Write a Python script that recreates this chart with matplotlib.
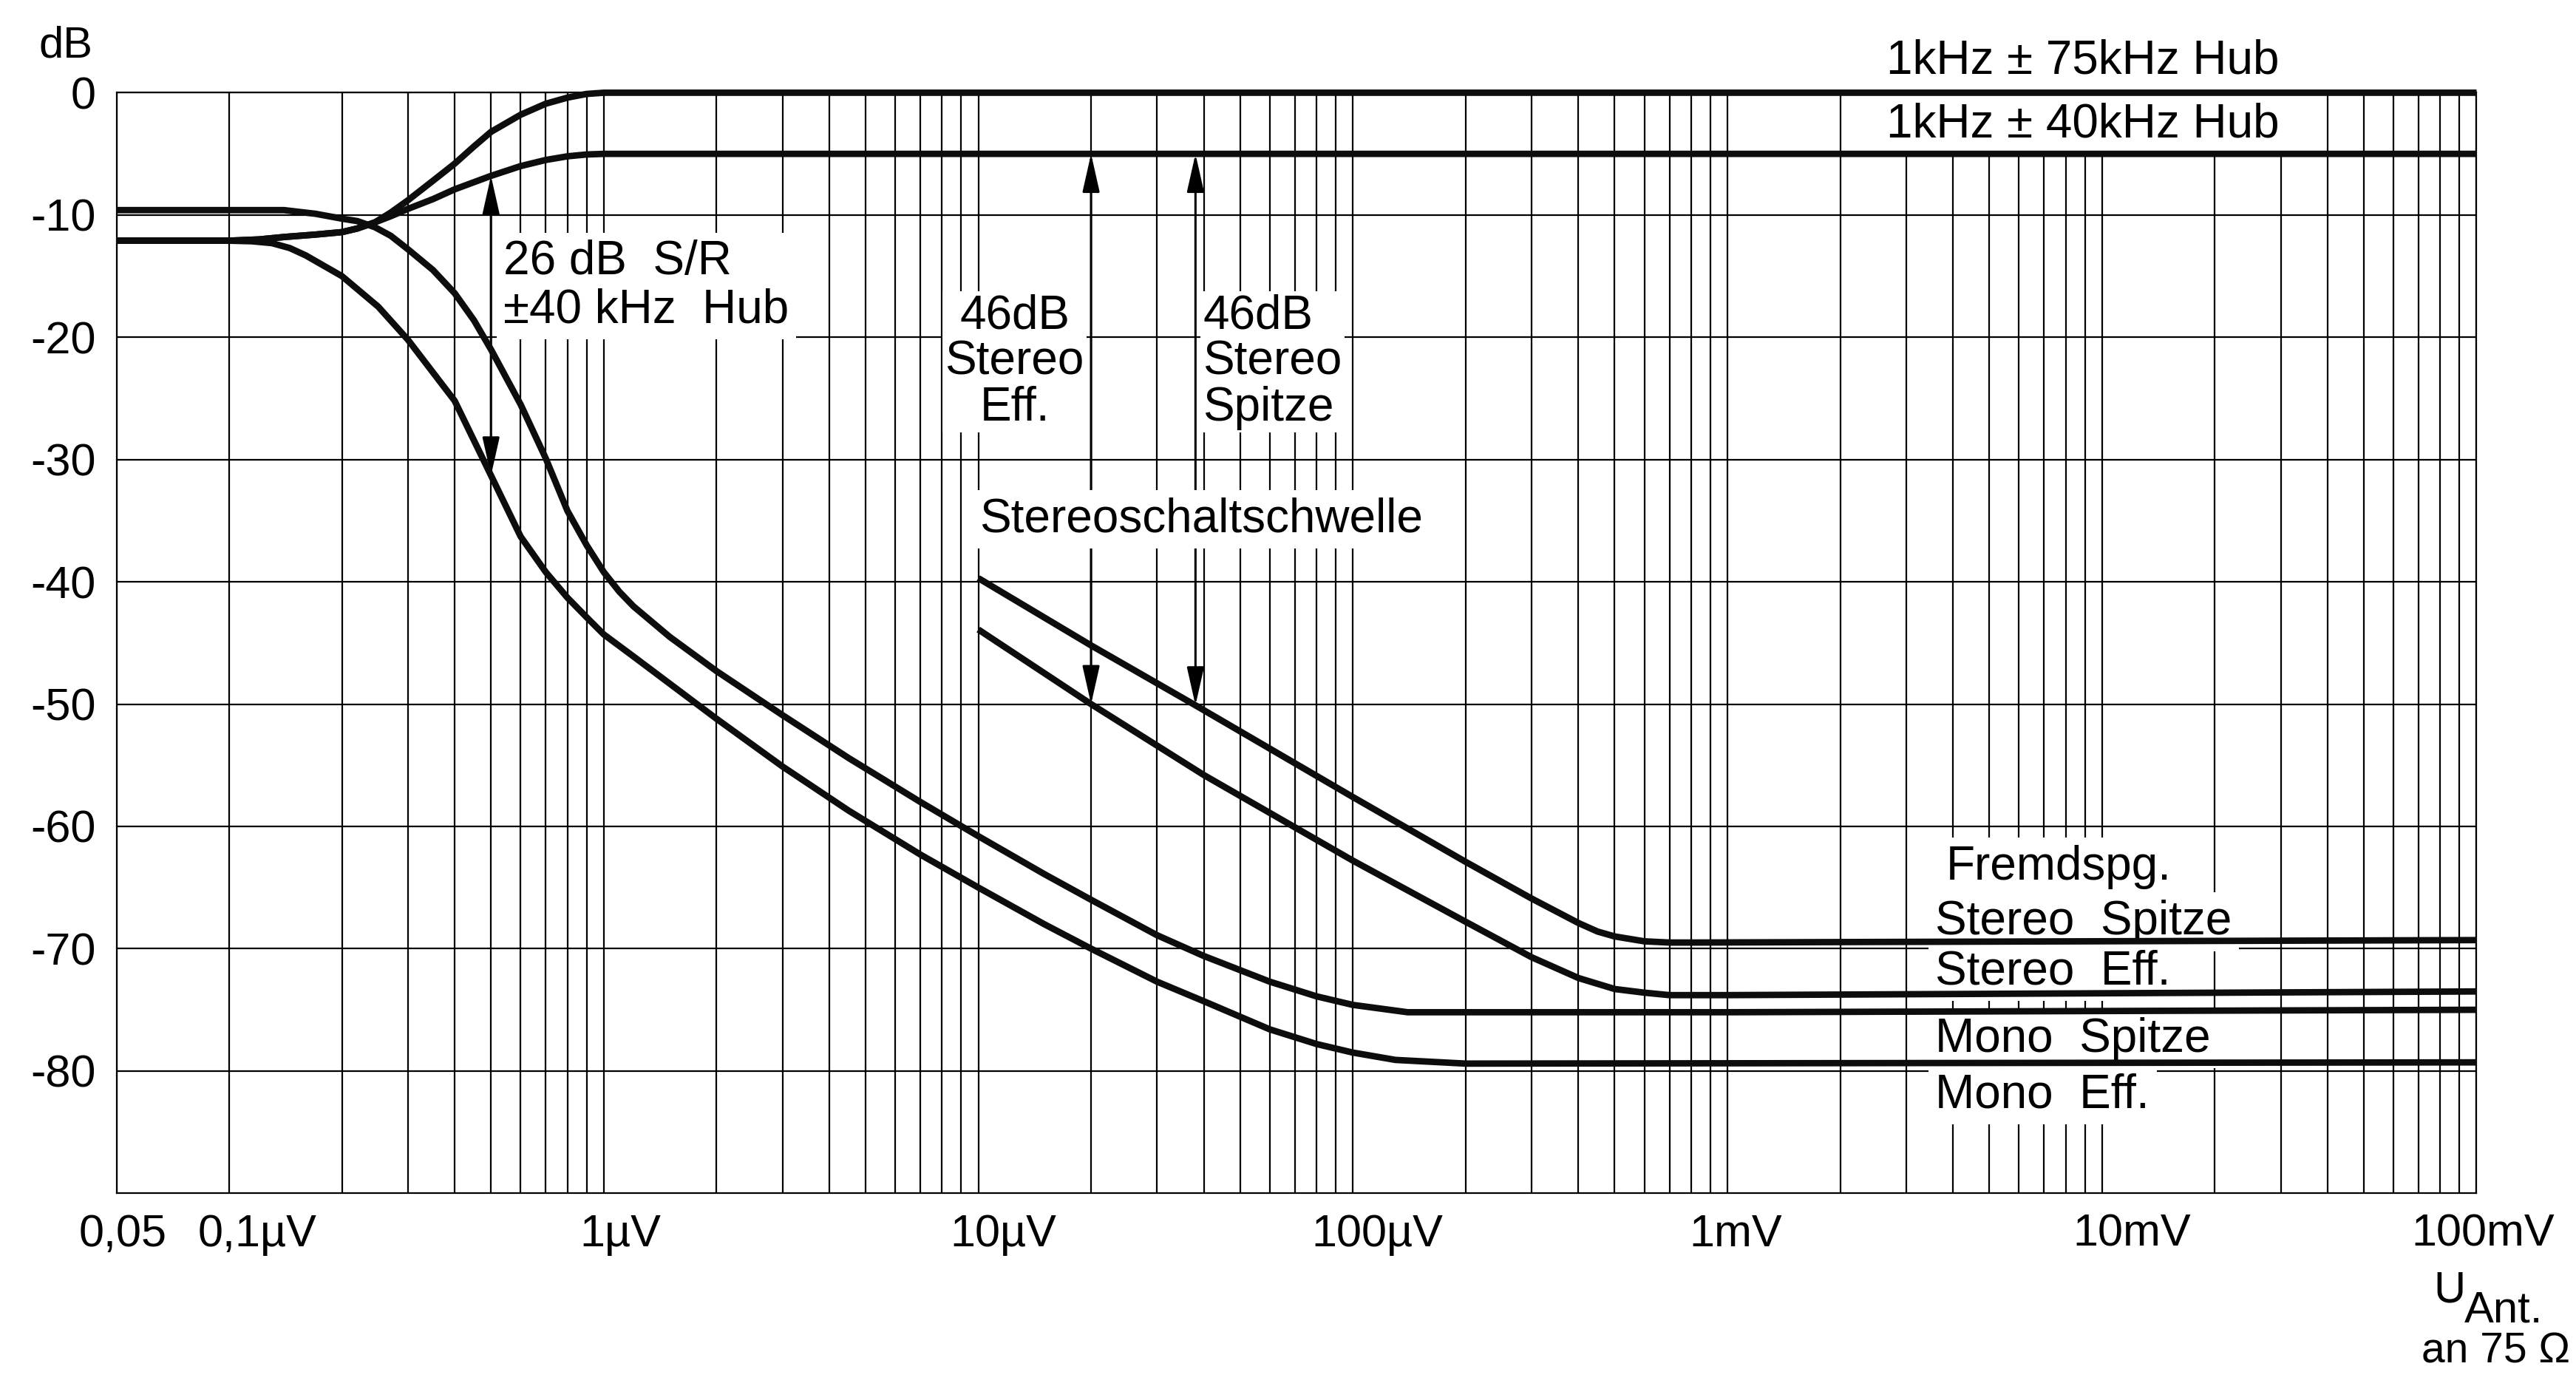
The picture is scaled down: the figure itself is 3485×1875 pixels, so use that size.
import numpy as np
import matplotlib
matplotlib.use('Agg')
import matplotlib.pyplot as plt
from matplotlib import font_manager

# antenna voltage in µV, level in dB
uv_75 = [0.05, 0.1, 0.12, 0.14, 0.17, 0.2, 0.22, 0.245, 0.27, 0.3, 0.35, 0.4, 0.45, 0.5, 0.6, 0.7, 0.8, 0.9,
         1.0, 1e5]
db_75 = [-12.1, -12.1, -12.0, -11.8, -11.6, -11.4, -11.1, -10.6, -9.8, -8.8, -7.2, -5.8, -4.4, -3.2, -1.8, -0.9,
         -0.4, -0.1, 0.0, 0.0]

uv_40 = [0.05, 0.1, 0.12, 0.14, 0.17, 0.2, 0.22, 0.245, 0.27, 0.3, 0.35, 0.4, 0.5, 0.6, 0.7, 0.8, 0.9, 1.0, 1e5]
db_40 = [-12.1, -12.1, -12.0, -11.8, -11.6, -11.4, -11.1, -10.6, -10.1, -9.5, -8.7, -7.9, -6.8, -6.0, -5.5, -5.2,
         -5.05, -5.0, -5.0]

uv_mono_pk = [0.05, 0.14, 0.17, 0.2, 0.22, 0.245, 0.27, 0.3, 0.35, 0.4, 0.45, 0.5, 0.6, 0.7, 0.8, 0.9, 1.0, 1.1,
              1.2, 1.5, 2, 3, 4.5, 7, 10, 15, 20, 30, 40, 60, 80, 100, 140, 1000, 1e5]
db_mono_pk = [-9.6, -9.6, -9.9, -10.3, -10.5, -11.0, -11.7, -12.8, -14.5, -16.4, -18.6, -21.0, -25.5, -29.9, -34.2,
              -37.0, -39.2, -40.8, -42.0, -44.5, -47.3, -50.9, -54.4, -58.0, -60.8, -63.9, -66.0, -68.9, -70.6,
              -72.7, -73.9, -74.6, -75.2, -75.2, -75.0]

uv_mono_eff = [0.05, 0.1, 0.115, 0.13, 0.145, 0.16, 0.2, 0.25, 0.3, 0.4, 0.5, 0.6, 0.7, 0.8, 0.9, 1.0, 1.2, 2, 3,
               4.5, 7, 10, 15, 20, 30, 40, 60, 80, 100, 130, 200, 1e5]
db_mono_eff = [-12.1, -12.1, -12.15, -12.3, -12.7, -13.3, -15.0, -17.5, -20.2, -25.2, -31.3, -36.3, -39.2, -41.3,
               -42.9, -44.3, -46.1, -51.2, -55.1, -58.7, -62.3, -65.0, -68.0, -70.0, -72.7, -74.3, -76.6, -77.8,
               -78.5, -79.1, -79.4, -79.3]

uv_st_pk = [10, 20, 38, 100, 200, 300, 400, 450, 500, 600, 700, 800, 1e5]
db_st_pk = [-39.7, -45.2, -50.1, -57.6, -62.9, -65.9, -67.9, -68.6, -69.0, -69.4, -69.5, -69.5, -69.3]

uv_st_eff = [10, 20, 40, 100, 200, 300, 400, 500, 600, 700, 1000, 1e5]
db_st_eff = [-43.9, -50.0, -55.8, -62.8, -67.8, -70.7, -72.4, -73.3, -73.6, -73.8, -73.8, -73.5]

x_ticks = [0.05, 0.1, 1, 10, 100, 1000, 10000, 100000]
x_tick_labels = ['0,05', '0,1µV', '1µV', '10µV', '100µV', '1mV', '10mV', '100mV']
x_label_shift = [6, 27, 16, 24, 24, 8, 29, 6]
y_ticks = [0, -10, -20, -30, -40, -50, -60, -70, -80]
y_tick_labels = ['0', '-10', '-20', '-30', '-40', '-50', '-60', '-70', '-80']

names = {f.name for f in font_manager.fontManager.ttflist}
main_font = 'Liberation Sans' if 'Liberation Sans' in names else 'DejaVu Sans'
plt.rcParams['font.family'] = [main_font, 'DejaVu Sans']

fig = plt.figure(figsize=(34.85, 18.75), dpi=100)
ax = fig.add_axes([0.0452, 0.1391, 0.9162, 0.7940])
ax.set_xscale('log')
ax.set_xlim(0.05, 1e5)
ax.set_ylim(-90, 0)

# grid: every 1..9 step per decade, none between 0.05 and 0.1
minor = [m * 10.0 ** e for e in range(-1, 5) for m in range(2, 10)]
ax.set_xticks(x_ticks)
ax.set_xticklabels([])
ax.set_xticks(minor, minor=True)
ax.set_yticks(y_ticks)
ax.set_yticklabels(y_tick_labels, fontsize=44)
ax.tick_params(axis='both', which='both', length=0)
ax.tick_params(axis='y', pad=20)
ax.grid(True, which='both', axis='x', color='black', lw=1.6, zorder=0.5)
ax.grid(True, which='major', axis='y', color='black', lw=1.6, zorder=0.5)
ax.set_axisbelow(True)
for sp in ax.spines.values():
    sp.set_linewidth(1.6)
    sp.set_color('black')

for xt, lab, dx in zip(x_ticks, x_tick_labels, x_label_shift):
    ax.annotate(lab, xy=(xt, 0), xycoords=('data', 'axes fraction'), xytext=(dx, -20),
                textcoords='offset points', ha='center', va='top', fontsize=44, annotation_clip=False)

curves = [(uv_75, db_75), (uv_40, db_40), (uv_mono_pk, db_mono_pk), (uv_mono_eff, db_mono_eff),
          (uv_st_pk, db_st_pk), (uv_st_eff, db_st_eff)]
for xs, ys in curves:
    ax.plot(xs, ys, color='#0d0d0d', lw=6.3, solid_joinstyle='round', solid_capstyle='butt',
            zorder=4, clip_on=False)


def level_at(xs, ys, x):
    return np.interp(np.log10(x), np.log10(xs), ys)


arrow_style = dict(arrowstyle='<|-|>,head_length=1.6,head_width=0.36', mutation_scale=20,
                   lw=2.2, color='black', shrinkA=0, shrinkB=0)
arrows = [(0.5, (uv_40, db_40), (uv_mono_eff, db_mono_eff)),
          (20, (uv_40, db_40), (uv_st_eff, db_st_eff)),
          (38, (uv_40, db_40), (uv_st_pk, db_st_pk))]
for xa, top, bot in arrows:
    ax.annotate('', xy=(xa, level_at(*bot, xa)), xytext=(xa, level_at(*top, xa)),
                arrowprops=arrow_style, zorder=3.5)

white = dict(facecolor='white', edgecolor='none', boxstyle='square,pad=0.15')
tight = dict(facecolor='white', edgecolor='none', boxstyle='square,pad=0.05')
fs = 46
ax.text(8900, 2.6, '1kHz ± 75kHz Hub', ha='center', va='center', fontsize=fs, clip_on=False)
ax.text(8900, -2.6, '1kHz ± 40kHz Hub', ha='center', va='center', fontsize=fs, bbox=white, zorder=3)
ax.text(0.54, -15.8, '26 dB  S/R\n±40 kHz  Hub', ha='left', va='center', fontsize=fs,
        linespacing=1.1, bbox=white, zorder=3)
ax.text(12.5, -22.0, '46dB\nStereo\nEff.', ha='center', va='center', fontsize=fs,
        linespacing=1.05, bbox=tight, zorder=3)
ax.text(39.8, -22.0, '46dB\nStereo\nSpitze', ha='left', va='center', fontsize=fs,
        linespacing=1.05, bbox=tight, zorder=3)
ax.text(10.05, -34.9, 'Stereoschaltschwelle', ha='left', va='center', fontsize=fs, bbox=white, zorder=3.8)
ax.text(7650, -63.3, 'Fremdspg.', ha='center', va='center', fontsize=fs, bbox=white, zorder=3)
right_labels = [('Stereo  Spitze', -67.8), ('Stereo  Eff.', -71.9), ('Mono  Spitze', -77.4), ('Mono  Eff.', -82.0)]
for lab, yl in right_labels:
    ax.text(3590, yl, lab, ha='left', va='center', fontsize=fs, bbox=white, zorder=3)

fig.text(0.0255, 0.9668, 'dB', ha='center', va='center', fontsize=43)
fig.text(0.9509, 0.0687, 'U', ha='center', va='center', fontsize=43)
fig.text(0.9719, 0.0545, 'Ant.', ha='center', va='center', fontsize=43)
fig.text(0.9688, 0.0249, 'an 75 Ω', ha='center', va='center', fontsize=41)

fig.savefig('out.png', dpi=100, facecolor='white')
